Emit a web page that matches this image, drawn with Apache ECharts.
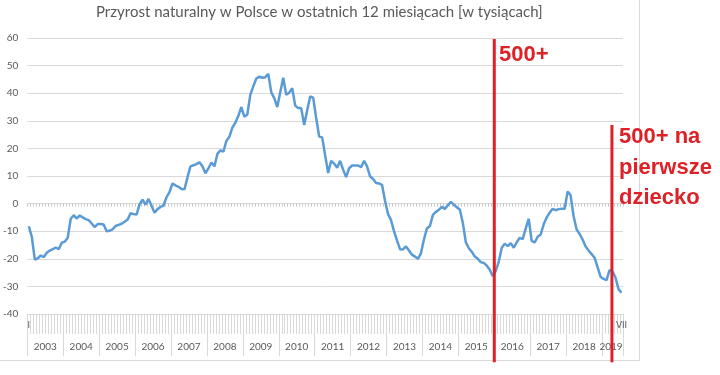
<!DOCTYPE html>
<html>
<head>
<meta charset="utf-8">
<script src="https://cdn.jsdelivr.net/npm/echarts@6/dist/echarts.min.js"></script>
<style>
  html, body { margin: 0; padding: 0; background: #fff; }
  #myChart { width: 720px; height: 375px; }
</style>
</head>
<body>
<div id="myChart"></div>
<script>
// przyrost naturalny w ostatnich 12 miesiącach, tys. (I 2003 - VII 2019)
const years = [2003, 2004, 2005, 2006, 2007, 2008, 2009, 2010, 2011, 2012, 2013, 2014, 2015, 2016, 2017, 2018, 2019];
const monthNames = ['I', 'II', 'III', 'IV', 'V', 'VI', 'VII', 'VIII', 'IX', 'X', 'XI', 'XII'];
const lastMonth = 7; // VII 2019

const values = [
  -8.2, -12.0, -20.3, -19.8, -18.8, -19.4, -17.8, -17.0, -16.5, -15.9, -16.5, -14.2, // 2003
  -13.8, -12.4, -5.5, -4.2, -5.4, -4.3, -5.0, -5.6, -6.0, -7.2, -8.5, -7.4,         // 2004
  -7.4, -7.6, -10.0, -9.8, -9.3, -8.1, -7.7, -7.3, -6.6, -5.8, -3.5, -3.8,          // 2005
  -4.0, -0.3, 1.4, -0.4, 1.7, -0.8, -3.3, -2.0, -1.2, -0.7, 2.3, 4.2,               // 2006
  7.3, 6.6, 6.1, 5.3, 5.2, 9.5, 13.5, 13.9, 14.3, 15.0, 13.5, 11.0,                 // 2007
  12.8, 14.9, 13.5, 18.0, 19.3, 18.8, 22.7, 24.2, 27.5, 29.3, 31.8, 35.0,           // 2008
  31.5, 32.3, 39.5, 42.5, 45.3, 46.0, 45.6, 45.8, 47.0, 40.3, 38.2, 35.0,           // 2009
  40.3, 45.6, 39.4, 40.2, 41.8, 35.5, 34.6, 34.6, 28.5, 33.8, 38.8, 38.4,           // 2010
  31.0, 24.3, 24.0, 17.5, 11.1, 15.5, 14.5, 13.0, 15.5, 12.3, 9.6, 12.8,            // 2011
  13.8, 13.8, 13.8, 13.2, 15.5, 13.5, 9.9, 8.9, 7.5, 7.3, 6.8, 1.0,                 // 2012
  -3.8, -6.0, -10.0, -13.3, -16.5, -16.6, -15.5, -17.0, -18.5, -19.2, -20.0, -18.0, // 2013
  -13.0, -9.0, -8.1, -4.1, -3.0, -2.2, -1.2, -1.9, -0.6, 0.6, -0.4, -1.3,           // 2014
  -2.2, -7.0, -14.0, -16.2, -17.5, -19.2, -20.0, -21.2, -21.5, -22.5, -24.0, -26.3, // 2015
  -24.4, -21.0, -16.0, -14.5, -15.4, -14.3, -16.0, -14.0, -12.4, -12.9, -9.0, -5.5, // 2016
  -13.5, -14.1, -12.0, -11.2, -7.5, -5.0, -3.3, -1.9, -2.4, -2.0, -1.9, -1.9,       // 2017
  4.4, 3.0, -4.6, -9.4, -11.0, -13.0, -15.5, -17.0, -18.3, -19.6, -23.0, -26.5,     // 2018
  -27.3, -27.7, -24.1, -24.6, -26.8, -31.0, -32.3                                   // 2019
];

// zdarzenia (miesiąc liczony od I 2003)
const eventAt = [156, 195.3];
const eventText = ['500+', '500+ na\npierwsze\ndziecko'];

const categories = [];
years.forEach(function (y) {
  const n = y === years[years.length - 1] ? lastMonth : 12;
  for (let m = 0; m < n; m++) categories.push(y + '-' + monthNames[m]);
});

const font = 'Lato';
const gray = '#595959';
const lineGray = '#d9d9d9';
const red = '#de2027';

const myChart = echarts.init(document.getElementById('myChart'));

// środek etykiety roku: VII w pełnych latach, środek niepełnego roku
function yearLabelIndex(i) {
  const y = Math.floor(i / 12);
  const inYear = Math.min(12, categories.length - y * 12);
  return i % 12 === Math.floor(inYear / 2);
}

myChart.setOption({
  animation: false,
  title: {
    text: 'Przyrost naturalny w Polsce w ostatnich 12 miesiącach [w tysiącach]',
    left: 96,
    top: 5,
    padding: 0,
    textStyle: { fontFamily: font, fontSize: 15, fontWeight: 'normal', color: gray }
  },
  grid: { left: 26, right: 97, top: 38, bottom: 61 },
  xAxis: [
    {
      // miesiące
      type: 'category',
      data: categories,
      position: 'bottom',
      axisLine: { onZero: false, lineStyle: { color: lineGray } },
      axisTick: { show: true, interval: 0, length: 20, lineStyle: { color: lineGray } },
      axisLabel: {
        interval: function (i) { return i === 0 || i === categories.length - 1; },
        formatter: function (v) { return v.split('-')[1]; },
        fontFamily: font, fontSize: 9, color: gray, margin: 7
      },
      splitLine: { show: false }
    },
    {
      // lata
      type: 'category',
      data: categories,
      position: 'bottom',
      axisLine: { show: false, onZero: false },
      axisTick: {
        show: true,
        interval: function (i) { return i % 12 === 0; },
        length: 42, lineStyle: { color: lineGray }
      },
      axisLabel: {
        interval: function (i) { return yearLabelIndex(i); },
        formatter: function (v) { return v.split('-')[0]; },
        fontFamily: font, fontSize: 10, color: gray, margin: 28,
        padding: [0, 3, 0, 0]
      },
      splitLine: { show: false }
    },
    {
      // oś na poziomie zera
      type: 'category',
      data: categories,
      position: 'bottom',
      axisLine: { show: true, onZero: true, lineStyle: { color: lineGray } },
      axisTick: { show: true, interval: 0, length: 3, lineStyle: { color: '#c8c8c8' } },
      axisLabel: { show: false },
      splitLine: { show: false }
    },
    {
      type: 'value',
      min: 0,
      max: categories.length,
      show: false
    }
  ],
  yAxis: {
    type: 'value',
    min: -40,
    max: 60,
    interval: 10,
    axisLine: { show: false, onZero: false },
    axisTick: { show: false },
    axisLabel: { fontFamily: font, fontSize: 10, color: gray, margin: 9 },
    splitLine: { lineStyle: { color: lineGray } }
  },
  series: [
    {
      name: 'przyrost',
      type: 'line',
      xAxisIndex: 0,
      data: values,
      symbol: 'none',
      smooth: false,
      lineStyle: { color: '#5b9bd5', width: 2.5 },
      z: 3
    },
    {
      type: 'line',
      xAxisIndex: 3,
      data: [[eventAt[0], 59.6], [eventAt[0], -57.5]],
      symbol: 'none',
      clip: false,
      silent: true,
      lineStyle: { color: red, width: 3 },
      z: 5
    },
    {
      type: 'line',
      xAxisIndex: 3,
      data: [[eventAt[1], 28.5], [eventAt[1], -57.5]],
      symbol: 'none',
      clip: false,
      silent: true,
      lineStyle: { color: red, width: 3 },
      z: 5
    }
  ],
  graphic: [
    {
      type: 'rect',
      shape: { x: -1, y: -1, width: 640.5, height: 361.5 },
      style: { fill: 'none', stroke: lineGray, lineWidth: 1 },
      silent: true,
      z: 0
    },
    {
      type: 'text',
      left: 499,
      top: 44,
      style: { text: eventText[0], font: 'bold 22px "Liberation Sans"', fill: red },
      z: 10
    },
    {
      type: 'text',
      left: 619,
      top: 122,
      style: { text: eventText[1], font: 'bold 22px "Liberation Sans"', lineHeight: 30.5, fill: red },
      z: 10
    }
  ]
});
</script>
</body>
</html>
